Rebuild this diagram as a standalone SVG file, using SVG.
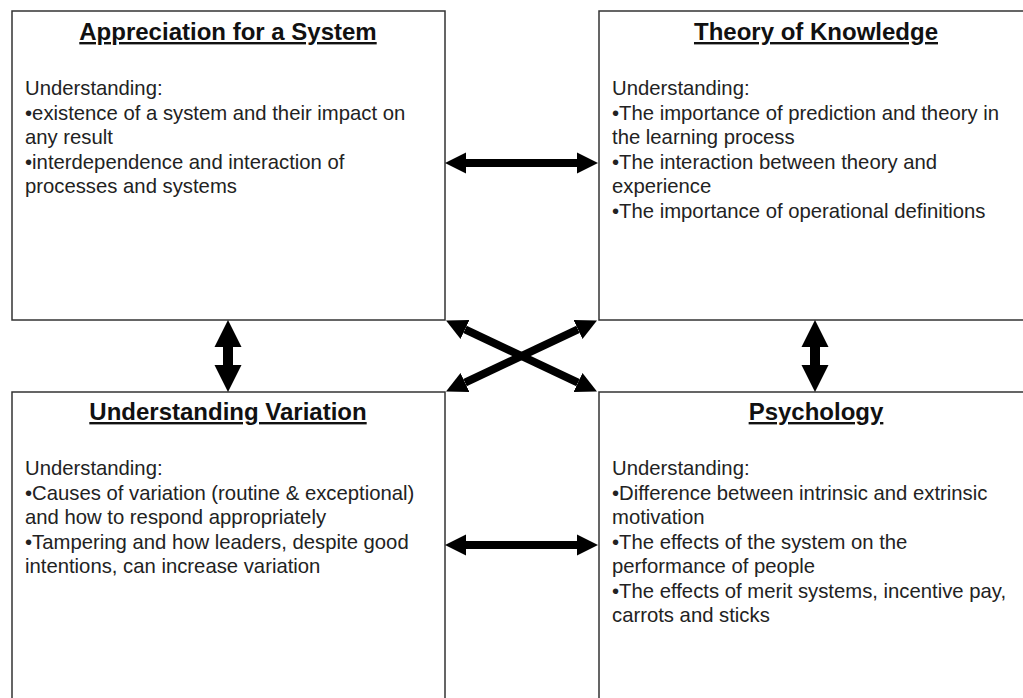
<svg xmlns="http://www.w3.org/2000/svg" width="1023" height="698" viewBox="0 0 1023 698">
<style>
.box{fill:#fff;stroke:#333;stroke-width:1.5}
.title{font-family:"Liberation Sans",Arial,sans-serif;font-size:24px;font-weight:bold;text-decoration:underline;text-anchor:middle;fill:#111}
.body{font-family:"Liberation Sans",Arial,sans-serif;font-size:20.3px;fill:#222}
.conn{stroke:#000;stroke-width:8;fill:none}
.vconn{stroke:#000;stroke-width:10;fill:none}
</style>
<defs>
<marker id="ah" markerUnits="userSpaceOnUse" markerWidth="24" markerHeight="24" viewBox="0 -12 24 24" refX="0" refY="0" orient="auto-start-reverse">
<path d="M0,-10.5 L21,0 L0,10.5 z" fill="#000"/>
</marker>
<marker id="av" markerUnits="userSpaceOnUse" markerWidth="30" markerHeight="30" viewBox="0 -15 30 30" refX="0" refY="0" orient="auto-start-reverse">
<path d="M0,-13.5 L27,0 L0,13.5 z" fill="#000"/>
</marker>
</defs>
<rect width="1023" height="698" fill="#fff"/>
<g id="system">
<rect class="box" x="12" y="11" width="433" height="309"/>
<text class="title" x="228" y="40">Appreciation for a System</text>
<text class="body"><tspan x="25" y="95">Understanding:</tspan><tspan x="25" y="120">•existence of a system and their impact on</tspan><tspan x="25" y="144">any result</tspan><tspan x="25" y="169">•interdependence and interaction of</tspan><tspan x="25" y="193">processes and systems</tspan></text>
</g>
<g id="knowledge">
<rect class="box" x="599" y="11" width="440" height="309"/>
<text class="title" x="816" y="40">Theory of Knowledge</text>
<text class="body"><tspan x="612" y="95">Understanding:</tspan><tspan x="612" y="120">•The importance of prediction and theory in</tspan><tspan x="612" y="144">the learning process</tspan><tspan x="612" y="169">•The interaction between theory and</tspan><tspan x="612" y="193">experience</tspan><tspan x="612" y="218">•The importance of operational definitions</tspan></text>
</g>
<g id="variation">
<rect class="box" x="12" y="392" width="433" height="320"/>
<text class="title" x="228" y="420">Understanding Variation</text>
<text class="body"><tspan x="25" y="475">Understanding:</tspan><tspan x="25" y="500">•Causes of variation (routine &amp; exceptional)</tspan><tspan x="25" y="524">and how to respond appropriately</tspan><tspan x="25" y="549">•Tampering and how leaders, despite good</tspan><tspan x="25" y="573">intentions, can increase variation</tspan></text>
</g>
<g id="psychology">
<rect class="box" x="599" y="392" width="440" height="320"/>
<text class="title" x="816" y="420">Psychology</text>
<text class="body"><tspan x="612" y="475">Understanding:</tspan><tspan x="612" y="500">•Difference between intrinsic and extrinsic</tspan><tspan x="612" y="524">motivation</tspan><tspan x="612" y="549">•The effects of the system on the</tspan><tspan x="612" y="573">performance of people</tspan><tspan x="612" y="598">•The effects of merit systems, incentive pay,</tspan><tspan x="612" y="622">carrots and sticks</tspan></text>
</g>
<g id="connectors">
<line class="conn" x1="466" y1="163" x2="577" y2="163" marker-start="url(#ah)" marker-end="url(#ah)"/>
<line class="conn" x1="466" y1="545" x2="577" y2="545" marker-start="url(#ah)" marker-end="url(#ah)"/>
<line class="vconn" x1="228" y1="347" x2="228" y2="365" marker-start="url(#av)" marker-end="url(#av)"/>
<line class="vconn" x1="815" y1="347" x2="815" y2="365" marker-start="url(#av)" marker-end="url(#av)"/>
<line class="conn" x1="465" y1="329.4" x2="578" y2="382.6" marker-start="url(#ah)" marker-end="url(#ah)"/>
<line class="conn" x1="578" y1="329.4" x2="465" y2="382.6" marker-start="url(#ah)" marker-end="url(#ah)"/>
</g>
</svg>
